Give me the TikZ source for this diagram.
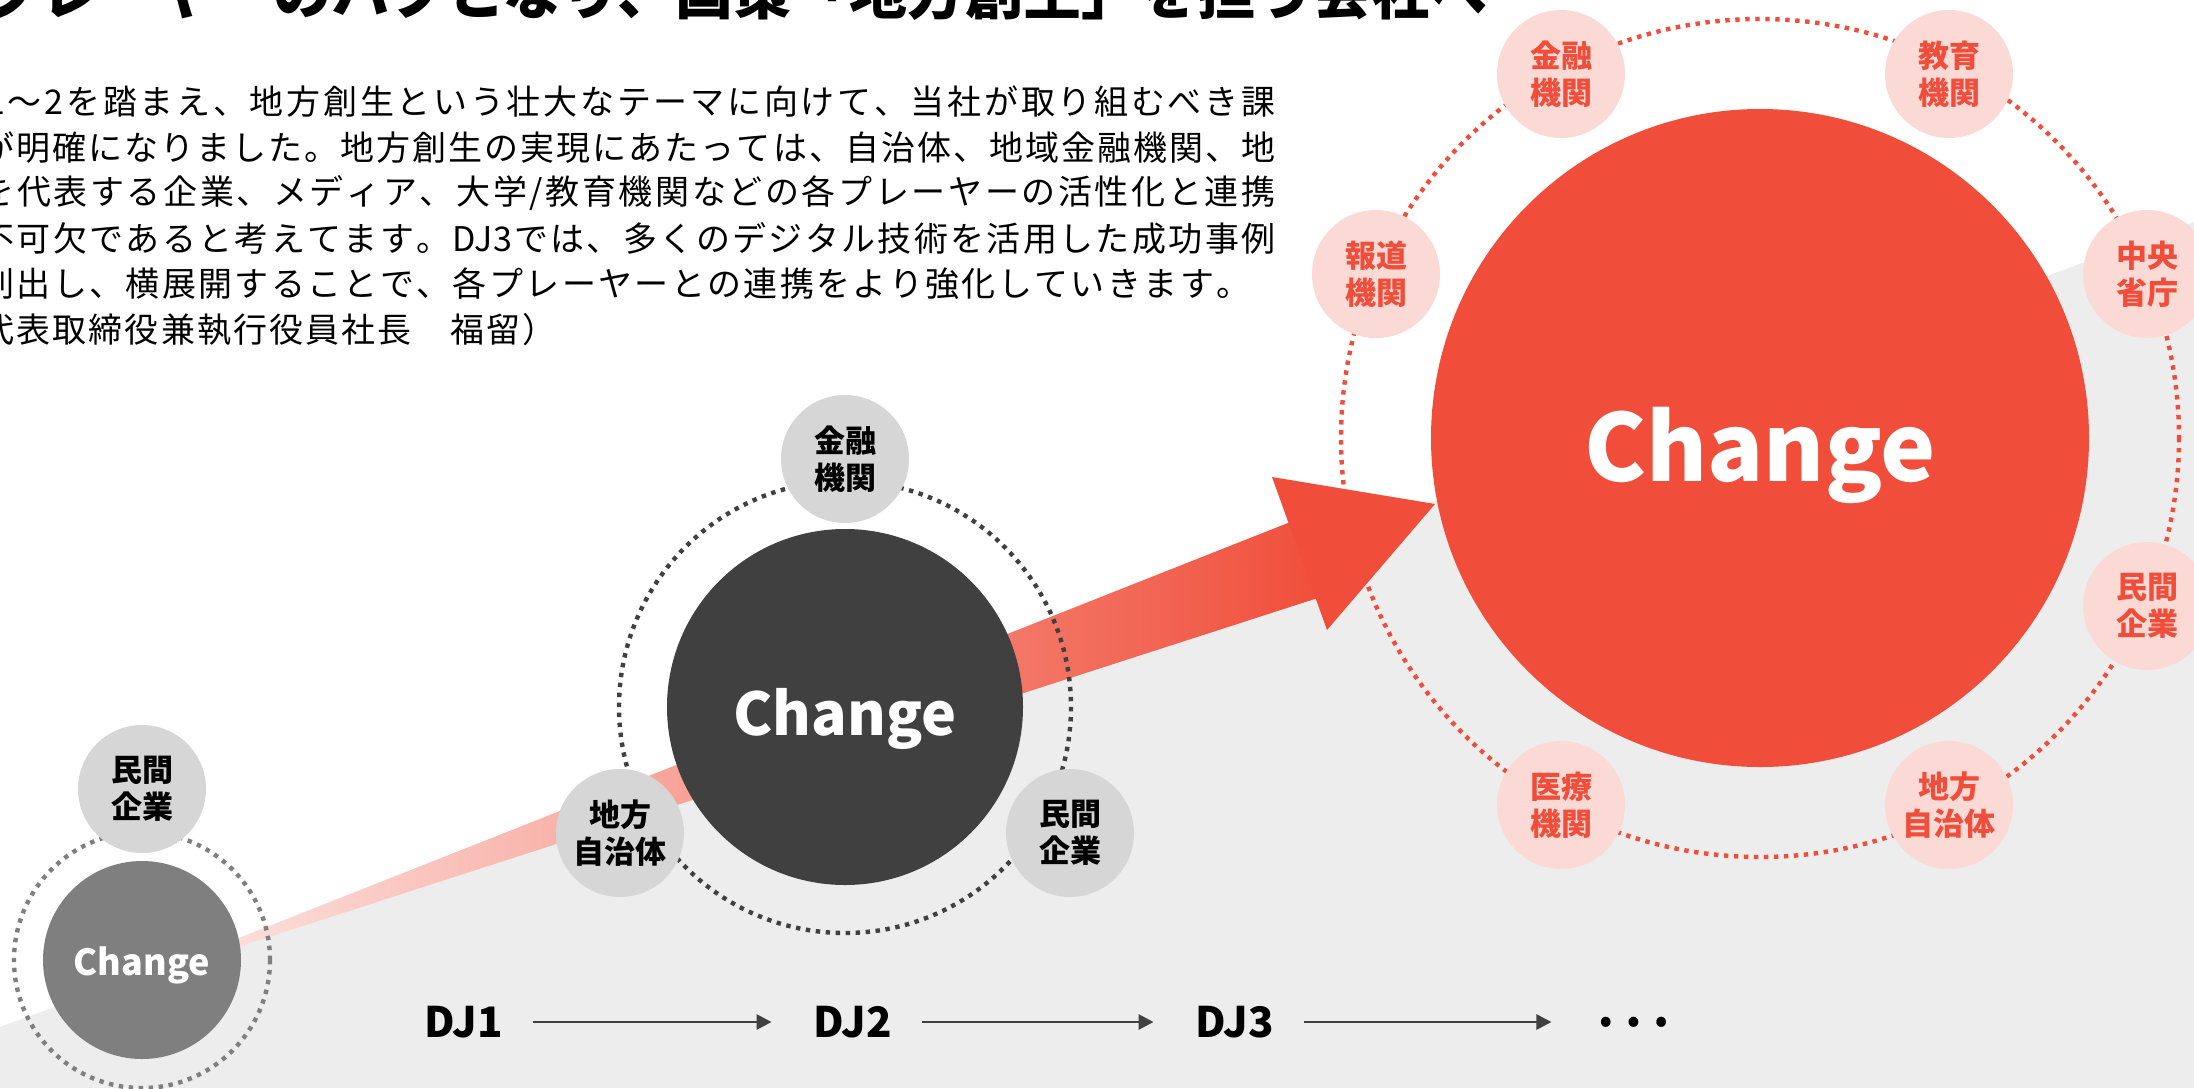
\documentclass[tikz,border=0pt]{standalone}
\usepackage{fontspec}
\setmainfont{Noto Sans CJK JP}
\usetikzlibrary{arrows.meta}
\definecolor{cred}{HTML}{F04E3A}
\definecolor{cpink}{HTML}{FBDAD6}
\definecolor{cbg}{HTML}{EDEDED}
\definecolor{csat}{HTML}{D6D6D6}
\definecolor{cdark}{HTML}{404040}
\definecolor{cmid}{HTML}{7F7F7F}
\definecolor{cband}{HTML}{FDEDEA}
\makeatletter
\def\sprd#1{\@sprd#1\@nil}
\def\@sprd#1#2\@nil{#1\ifx\relax#2\relax\else\hfil\@sprd#2\@nil\fi}
\makeatother
\begin{document}
\begin{tikzpicture}[x=0.5pt,y=-0.5pt,
  satg/.style={circle, fill=csat, minimum size=64pt, inner sep=0pt, align=center,
    font=\bfseries\fontsize{15.5}{18.5}\selectfont, text=black},
  satr/.style={satg, fill=cpink, text=cred},
  dring/.style={line width=2.2pt, dash pattern=on 2.2pt off 2.8pt},
  bodyline/.style={anchor=west, inner sep=0pt, font=\fontsize{17}{17}\selectfont, text=black},
  chg/.style={text=white, inner sep=0pt},
  djlab/.style={inner sep=0pt, font=\bfseries\fontsize{21}{21}\selectfont, text=black},
  djarr/.style={draw=cdark, line width=1.4pt, -{Triangle[length=7.5pt,width=7.5pt]},
    shorten <=15pt, shorten >=21pt}
]
\useasboundingbox (0,0) rectangle (2194,1088);
\clip (0,0) rectangle (2194,1088);
\fill[white] (0,0) rectangle (2194,1088);
\fill[cbg] (0,1027) -- (2194,222) -- (2194,1088) -- (0,1088) -- cycle;

% title
\node[anchor=base east, inner sep=0pt, font=\bfseries\fontsize{29}{29}\selectfont] (title) at (1488,14)
  {プレーヤーのハブとなり、国策「地方創生」を担う会社へ};

% body text
\node[bodyline] (l1) at (-14,102) {\makebox[644.5pt][s]{\sprd{1～2を踏まえ、地方創生という壮大なテーマに向けて、当社が取り組むべき課}}};
\node[bodyline] (l2) at (-20,148) {\makebox[647.5pt][s]{\sprd{が明確になりました。地方創生の実現にあたっては、自治体、地域金融機関、地}}};
\node[bodyline] (l3) at (-20,193) {\makebox[647.5pt][s]{\sprd{を代表する企業、メディア、大学/教育機関などの各プレーヤーの活性化と連携}}};
\node[bodyline] (l4) at (-20,238.5) {\makebox[647.5pt][s]{\sprd{不可欠であると考えてます。{DJ3}では、多くのデジタル技術を活用した成功事例}}};
\node[bodyline] (l5) at (-20,284) {\makebox[635pt][s]{\sprd{創出し、横展開することで、各プレーヤーとの連携をより強化していきます。}}};
\node[bodyline] (l6) at (-20,329.5) {\makebox[288pt][s]{\sprd{代表取締役兼執行役員社長　福留）}}};

% band (shaft)
\coordinate (bapex) at (120,985);
\coordinate (btop) at (1298,519);
\coordinate (bbot) at (1327,595);
\shade[left color=cband, right color=cred] (bapex) -- (btop) -- (bbot) -- cycle;

% rings
\draw[dring, draw=cmid] (142,960) circle[radius=128];
\draw[dring, draw=cdark] (845,707) circle[radius=226];
\draw[dring, draw=cred] (1760,438) circle[radius=419];

% arrow head
\coordinate (hA) at (1272,477);
\coordinate (hB) at (1327,630);
\coordinate (htip) at (1435,504);
\fill[cred] (hA) -- (htip) -- (hB) -- cycle;

% main circles
\node[circle, fill=cmid, minimum size=99pt, inner sep=0pt] (c1) at (142,960) {};
\node[circle, fill=cdark, minimum size=178pt, inner sep=0pt] (c2) at (845,707) {};
\node[circle, fill=cred, minimum size=329pt, inner sep=0pt] (c3) at (1760,438) {};
\node[chg, font=\bfseries\fontsize{18}{18}\selectfont] (t1) at (142,965) {Change};
\node[chg, font=\bfseries\fontsize{29.5}{29.5}\selectfont] (t2) at (845,719) {Change};
\node[chg, font=\bfseries\fontsize{46.5}{46.5}\selectfont] (t3) at (1760,455) {Change};

% satellites DJ1
\node[satg] (s1a) at (142,789) {民間\\企業};
% satellites DJ2
\node[satg] (s2a) at (845,459) {金融\\機関};
\node[satg] (s2b) at (620,833) {地方\\自治体};
\node[satg] (s2c) at (1070,833) {民間\\企業};
% satellites DJ3
\node[satr] (s3a) at (1561,74) {金融\\機関};
\node[satr] (s3b) at (1949,74) {教育\\機関};
\node[satr] (s3c) at (1376,274) {報道\\機関};
\node[satr] (s3d) at (2147,274) {中央\\省庁};
\node[satr] (s3e) at (2147,606) {民間\\企業};
\node[satr] (s3f) at (1949,805) {地方\\自治体};
\node[satr] (s3g) at (1561,805) {医療\\機関};

% DJ row
\node[djlab] (dj1) at (464,1022) {DJ1};
\node[djlab] (dj2) at (853,1022) {DJ2};
\node[djlab] (dj3) at (1235,1022) {DJ3};
\node[djlab, font=\fontsize{37}{37}\selectfont] (dots) at (1633,1022) {…};
\draw[djarr] (dj1) -- (dj2);
\draw[djarr] (dj2) -- (dj3);
\draw[djarr] (dj3) -- (dots);
\end{tikzpicture}
\end{document}
